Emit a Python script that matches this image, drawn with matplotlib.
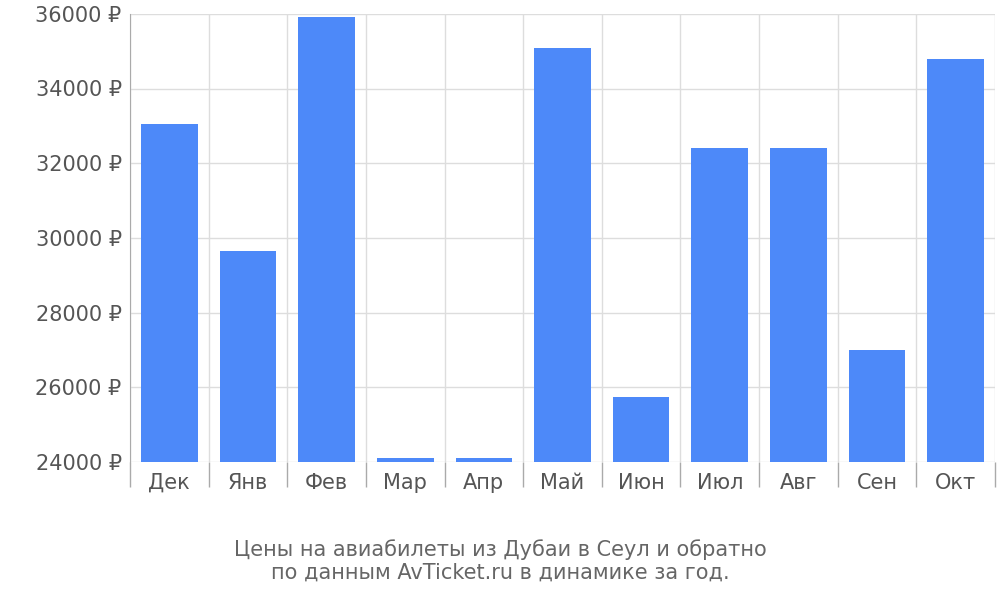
import matplotlib
matplotlib.use("Agg")
import matplotlib.pyplot as plt
import numpy as np

months = ["Дек", "Янв", "Фев", "Мар", "Апр", "Май", "Июн", "Июл", "Авг", "Сен", "Окт"]
prices = [33060, 29650, 35920, 24110, 24110, 35080, 25740, 32410, 32410, 27010, 34780]
yticks = [24000, 26000, 28000, 30000, 32000, 34000, 36000]

fig = plt.figure(figsize=(10, 6), dpi=100)
ax = fig.add_axes([0.13, 0.23, 0.865, 0.747])
x = np.arange(len(months))
ax.bar(x, prices, width=0.72, color="#4d89f9", zorder=3)
ax.set_xlim(-0.5, len(months) - 0.5)
ax.set_ylim(24000, 36000)
ax.set_yticks(yticks)
ax.set_yticklabels([f"{v} ₽" for v in yticks], color="#555555", fontsize=15)
ax.set_xticks(x)
ax.set_xticklabels(months, color="#555555", fontsize=15)
ax.set_xticks(np.arange(len(months) + 1) - 0.5, minor=True)
ax.tick_params(axis="x", which="major", length=0, pad=8)
ax.tick_params(axis="x", which="minor", length=18, color="#aaaaaa", width=1)
ax.tick_params(axis="y", length=0, pad=6)
ax.grid(True, axis="y", color="#dddddd", lw=1, zorder=0)
ax.grid(True, axis="x", which="minor", color="#dddddd", lw=1, zorder=0)
for s in ["top", "right", "bottom"]:
    ax.spines[s].set_visible(False)
ax.spines["left"].set_color("#aaaaaa")
fig.text(0.5, 0.065, "Цены на авиабилеты из Дубаи в Сеул и обратно\nпо данным AvTicket.ru в динамике за год.",
         ha="center", va="center", fontsize=15, color="#666666", linespacing=1.2)
fig.savefig("out.png", dpi=100)
